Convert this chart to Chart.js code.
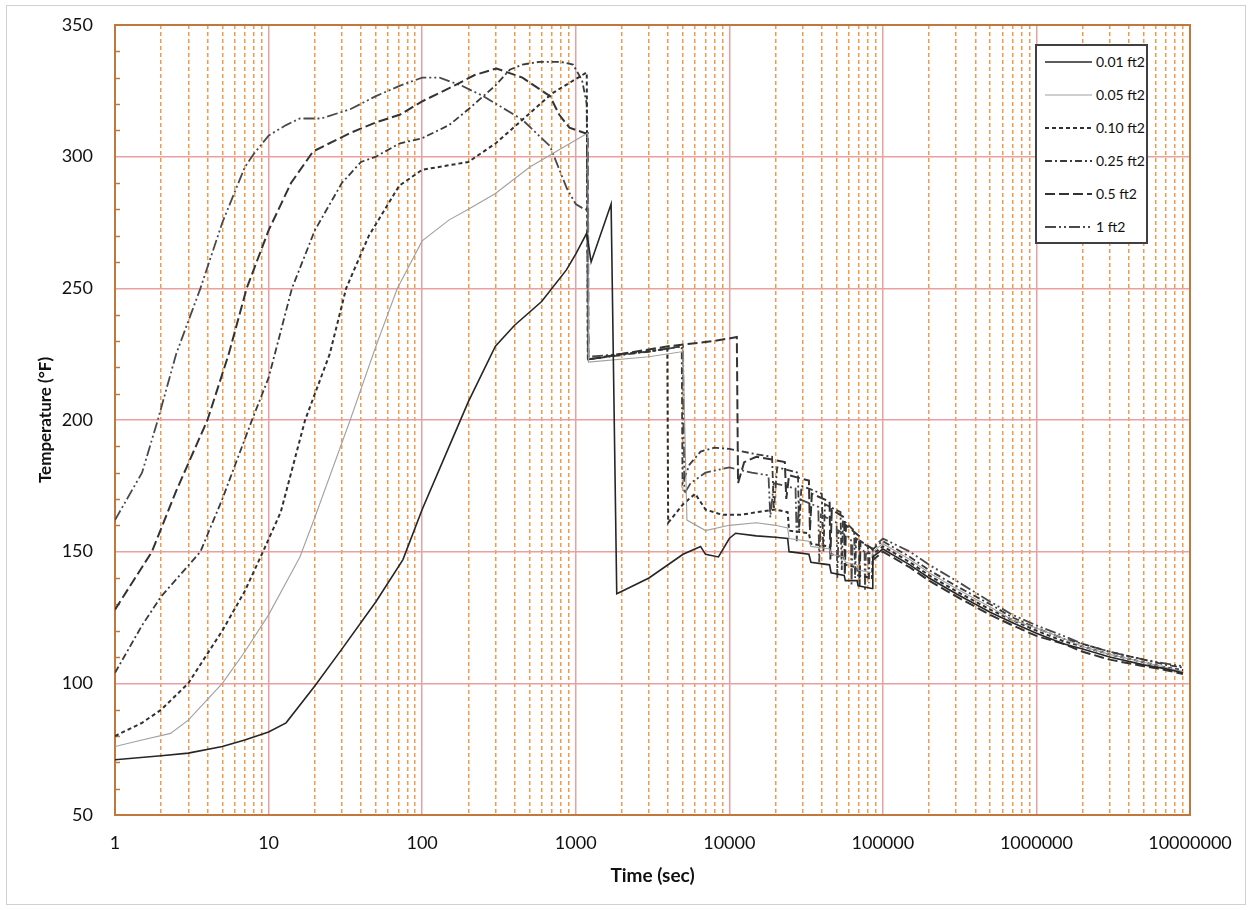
<!DOCTYPE html>
<html>
<head>
<meta charset="utf-8">
<script src="https://cdn.jsdelivr.net/npm/chart.js@4/dist/chart.umd.min.js"></script>
<style>
  body { margin: 0; background: #fff; font-family: Lato, 'Open Sans', sans-serif; }
  #frame { position: absolute; left: 6px; top: 5px; width: 1238px; height: 898px; border: 1px solid #d0d0d0; }
  #legend { position: absolute; left: 1035px; top: 44px; width: 109px; height: 196px; border: 2px solid #404040; background: #fff; }
  #legend .row { position: absolute; left: 0; height: 20px; font-size: 14px; color: #111; }
  #legend svg { position: absolute; left: 8px; top: 4px; }
  #legend span { position: absolute; left: 59px; top: 0; white-space: nowrap; line-height: 20px; }
</style>
</head>
<body>
<div id="frame"><canvas id="chart" width="1238" height="898"></canvas></div>
<div id="legend"></div>
<script>
// series labels
var seriesNames = ['0.01 ft2', '0.05 ft2', '0.10 ft2', '0.25 ft2', '0.5 ft2', '1 ft2'];

// 0.01 ft2
var t1 = [
  1, 2, 3, 5, 7, 10, 13, 20, 30, 50,
  75, 100, 150, 200, 300, 400, 600, 870, 1000, 1180,
  1260, 1700, 1850, 2000, 3000, 5000, 6500, 7000, 8500, 10000,
  11000, 15000, 20000, 24000, 24500, 33000, 34000, 45000, 46000, 56000,
  57000, 68000, 69000, 85000, 86000, 100000, 150000, 200000, 300000, 500000,
  700000, 1e6, 1.5e6, 2e6, 3e6, 5e6, 7e6, 9e6];
var T1 = [
  71, 72.5, 73.5, 76, 78.5, 81.5, 85, 99, 113, 131,
  147, 166, 190, 207, 228, 236, 245, 257, 263, 271,
  260, 282, 134, 135, 140, 149, 152, 149, 148, 155,
  157, 156, 155.5, 155, 150, 149, 146, 145, 142, 141,
  139, 139, 137, 136, 148, 151, 145, 140, 134, 127,
  123, 119, 115, 113, 110, 107, 105.5, 104];

// 0.05 ft2
var t2 = [
  1, 1.5, 2.3, 3, 5, 7, 10, 16, 20, 34,
  50, 69, 100, 150, 200, 300, 500, 800, 1200, 1210,
  3000, 5000, 5300, 7000, 10000, 15000, 20000, 24000, 24500, 33000,
  34000, 45000, 46000, 56000, 57000, 68000, 69000, 85000, 86000, 100000,
  150000, 200000, 300000, 500000, 700000, 1e6, 1.5e6, 2e6, 3e6, 5e6,
  7e6, 9e6];
var T2 = [
  76, 78.5, 81, 86, 100, 112, 126, 148, 163, 200,
  228, 250, 268, 276, 280, 286, 296, 303, 309, 222,
  224, 226, 162, 158, 160, 161, 160, 159, 155, 154,
  152, 151, 149, 148, 146, 145, 143, 142, 150, 153,
  147, 142, 136, 129, 124, 121, 117, 114, 111, 108,
  106, 104.5];

// 0.10 ft2
var t3 = [
  1, 1.5, 2, 3, 5, 7, 9.2, 12, 17.3, 25,
  32, 45, 71, 100, 200, 300, 430, 700, 1180, 1200,
  2000, 3950, 4000, 5000, 6000, 7000, 9000, 12000, 15000, 20000,
  24000, 24500, 33000, 34000, 45000, 46000, 56000, 57000, 68000, 69000,
  85000, 86000, 100000, 150000, 200000, 300000, 500000, 700000, 1e6, 1.5e6,
  2e6, 3e6, 5e6, 7e6, 9e6];
var T3 = [
  80, 85, 90, 100, 120, 135, 150, 165, 200, 225,
  250, 270, 289, 295, 298, 305, 313, 324, 332, 223,
  225, 227, 161, 168, 172, 166, 164, 164, 165, 166,
  165, 158, 157, 153, 152, 149, 148, 145, 144, 141,
  140, 149, 152, 146, 141, 135, 128, 124, 120, 116,
  114, 111, 108, 106, 105];

// 0.25 ft2
var t4 = [
  1, 1.5, 2, 3.6, 5, 7.8, 10, 14.2, 20, 30,
  40, 50, 71, 100, 150, 200, 300, 372, 450, 580,
  800, 960, 1100, 1180, 1200, 3000, 4900, 4960, 5500, 6500,
  8000, 10000, 15000, 19000, 19500, 20500, 28000, 28500, 29500, 40000,
  41000, 42000, 53000, 54000, 55000, 65000, 66000, 67000, 80000, 81000,
  82000, 100000, 150000, 200000, 300000, 500000, 700000, 1e6, 1.5e6, 2e6,
  3e6, 5e6, 7e6, 9e6];
var T4 = [
  104, 122, 133, 150, 170, 200, 216, 250, 272, 290,
  298, 300, 305, 307, 312, 318, 327, 333, 335, 336,
  336, 335, 329, 320, 223, 226, 228, 176, 183, 188,
  189.5, 189, 187, 186, 166, 182, 180, 158, 175, 172,
  150, 168, 165, 143, 162, 158, 140, 155, 152, 138,
  150, 154, 148, 143, 137, 130, 125, 121, 117, 115,
  112, 109, 107, 106];

// 0.5 ft2
var t5 = [
  1, 1.74, 2.5, 4, 5.5, 7.2, 10, 14, 19.5, 34,
  50, 72, 100, 150, 220, 305, 450, 680, 780, 910,
  1140, 1200, 1210, 4000, 8000, 11200, 11400, 12500, 15000, 19000,
  23000, 23500, 24500, 33000, 33500, 34500, 45000, 45500, 46500, 56000,
  56500, 57500, 70000, 70500, 71500, 86000, 87000, 100000, 150000, 200000,
  300000, 500000, 700000, 1e6, 1.5e6, 2e6, 3e6, 5e6, 7e6, 9e6];
var T5 = [
  128, 150, 173, 200, 225, 250, 272, 290, 302, 309,
  313, 316, 321, 326, 331, 333.5, 330, 323, 316, 311,
  309, 309, 223, 228, 230, 231.5, 176, 184, 186, 185,
  184, 170, 179, 177, 158, 172, 169, 147, 166, 163,
  141, 160, 156, 137, 154, 151, 147, 150, 144, 139,
  133, 126, 122, 118, 115, 112, 109, 106.5, 105, 103.5];

// 1 ft2
var t6 = [
  1, 1.5, 1.9, 2.5, 3.6, 5, 7, 8, 10, 13,
  16, 22, 34, 50, 72, 100, 130, 180, 250, 450,
  680, 875, 1000, 1140, 1200, 1210, 3000, 5000, 5100, 5600,
  7000, 10000, 14000, 18000, 18500, 19500, 27000, 27500, 28500, 38000,
  38500, 39500, 50000, 50500, 51500, 62000, 62500, 63500, 76000, 76500,
  77500, 100000, 150000, 200000, 300000, 500000, 700000, 1e6, 1.5e6, 2e6,
  3e6, 5e6, 7e6, 9e6];
var T6 = [
  162, 180, 200, 225, 250, 275, 296, 301, 308, 312,
  314.5, 314.5, 318, 323, 327, 330, 330, 327, 323, 314,
  304, 288, 282, 280, 280, 224, 226, 228, 172, 176,
  180, 182, 180, 179, 163, 176, 174, 154, 170, 167,
  146, 164, 161, 140, 158, 155, 137, 153, 150, 135,
  149, 155, 150, 145, 139, 131, 126, 122, 118, 115,
  112, 109, 107.5, 106.5];

var allTimes = [t1, t2, t3, t4, t5, t6];
var allTemps = [T1, T2, T3, T4, T5, T6];

// axis ticks
var decadeTicks = [1, 10, 100, 1000, 10000, 100000, 1000000, 10000000];
var yTicks = [50, 100, 150, 200, 250, 300, 350];

var lineStyles = [
    { color: '#262626', width: 1.6, dash: [] },
    { color: '#a0a0a0', width: 1.1, dash: [] },
    { color: '#303030', width: 2, dash: [4, 3] },
    { color: '#3a3a3a', width: 1.8, dash: [7, 3, 2, 3] },
    { color: '#333333', width: 2, dash: [10, 4] },
    { color: '#4a4a4a', width: 1.8, dash: [11, 3, 2, 3, 2, 3] }
];

var minorTicks = [];
for (var d = 1; d < 1e7; d *= 10) {
    for (var k = 2; k <= 9; k++) minorTicks.push(d * k);
}

var frameColor = '#c0783c';

var framePlugin = {
    id: 'frame',
    beforeDatasetsDraw: function (chart) {
        var ctx = chart.ctx, a = chart.chartArea, y = chart.scales.y;
        ctx.save();
        ctx.strokeStyle = frameColor;
        ctx.lineWidth = 1.5;
        for (var v = 60; v < 350; v += 10) {
            if (v % 50 === 0) continue;
            var py = Math.round(y.getPixelForValue(v)) + 0.5;
            ctx.beginPath();
            ctx.moveTo(a.left, py);
            ctx.lineTo(a.left + 5, py);
            ctx.stroke();
        }
        ctx.lineWidth = 2;
        ctx.strokeRect(a.left, a.top, a.right - a.left, a.bottom - a.top);
        ctx.restore();
    }
};

var datasets = seriesNames.map(function (name, i) {
    var st = lineStyles[i];
    return {
        label: name,
        data: allTimes[i].map(function (t, j) { return { x: t, y: allTemps[i][j] }; }),
        showLine: true,
        pointRadius: 0,
        borderColor: st.color,
        borderWidth: st.width,
        borderDash: st.dash,
        tension: 0,
        fill: false
    };
});

var ctx = document.getElementById('chart').getContext('2d');
var chart = new Chart(ctx, {
    type: 'scatter',
    data: { datasets: datasets },
    options: {
        responsive: false,
        animation: false,
        layout: { padding: { top: 19, right: 55, left: 0, bottom: 0 } },
        scales: {
            x: {
                type: 'logarithmic',
                min: 1,
                max: 10000000,
                afterBuildTicks: function (s) { s.ticks = decadeTicks.map(function (v) { return { value: v }; }); },
                afterFit: function (s) { s.height = 89; s.paddingLeft = 0; s.paddingRight = 0; },
                ticks: {
                    autoSkip: false,
                    maxRotation: 0,
                    padding: 17,
                    color: '#111',
                    font: { family: 'Lato', size: 18 },
                    callback: function (v) { return String(v); }
                },
                grid: { color: '#e8a0a0', lineWidth: 1.5, drawTicks: false },
                border: { display: false },
                title: {
                    display: true,
                    text: 'Time (sec)',
                    color: '#111',
                    font: { family: 'Lato', size: 19, weight: 'bold' },
                    padding: { top: 0, bottom: 17 }
                }
            },
            xMinor: {
                type: 'logarithmic',
                position: 'bottom',
                min: 1,
                max: 10000000,
                afterBuildTicks: function (s) { s.ticks = minorTicks.map(function (v) { return { value: v }; }); },
                ticks: { display: false },
                grid: { color: '#f39a48', lineWidth: 1.5, drawTicks: false },
                border: { display: false, dash: [4, 3] }
            },
            y: {
                type: 'linear',
                min: 50,
                max: 350,
                afterBuildTicks: function (s) { s.ticks = yTicks.map(function (v) { return { value: v }; }); },
                afterFit: function (s) { s.width = 108; s.paddingTop = 0; },
                ticks: {
                    padding: 22,
                    color: '#111',
                    font: { family: 'Lato', size: 18 }
                },
                grid: { color: '#e8a0a0', lineWidth: 1.5, drawTicks: false },
                border: { display: false },
                title: {
                    display: true,
                    text: 'Temperature (°F)',
                    color: '#111',
                    font: { family: 'Lato', size: 17, weight: 'bold' },
                    padding: { top: 28, bottom: 0 }
                }
            }
        },
        plugins: {
            legend: { display: false },
            tooltip: { enabled: false }
        }
    },
    plugins: [framePlugin]
});

// legend box, built from the chart's datasets
var legendEl = document.getElementById('legend');
chart.data.datasets.forEach(function (ds, i) {
    var row = document.createElement('div');
    row.className = 'row';
    row.style.top = (6 + i * 33) + 'px';
    row.style.width = '100%';
    var dash = (ds.borderDash || []).join(' ');
    row.innerHTML = '<svg width="48" height="12"><line x1="0" y1="6" x2="47" y2="6" stroke="' + ds.borderColor +
        '" stroke-width="' + ds.borderWidth + '" stroke-dasharray="' + dash + '"/></svg><span>' + ds.label + '</span>';
    legendEl.appendChild(row);
});
</script>
</body>
</html>
